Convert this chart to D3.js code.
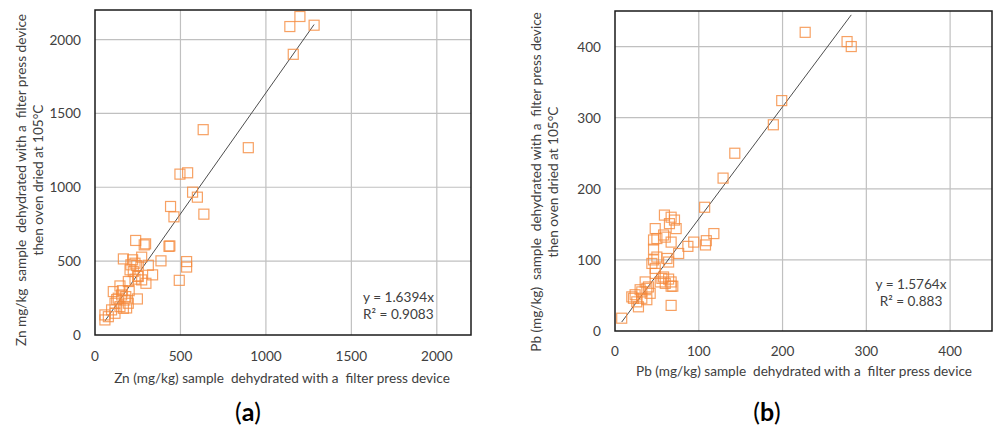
<!DOCTYPE html>
<html>
<head>
<meta charset="utf-8">
<script src="https://cdn.jsdelivr.net/npm/d3@7"></script>
<style>
  body { margin: 0; background: #fff; }
  svg text { font-family: Lato, "Open Sans", sans-serif; white-space: pre; }
</style>
</head>
<body>
<svg id="chart" width="995" height="427"></svg>
<script>
// Zn: filter press (x) vs. filter press + oven dried (y)
const znX = [1140, 1199, 1282, 1160, 633, 897, 497, 542, 571, 599, 637, 442, 462, 238, 296, 288, 433, 438,
  536, 536, 386, 493, 337, 166, 220, 273, 210, 234, 244, 312, 205, 224, 253, 234, 273, 298, 195, 146, 248,
  107, 156, 136, 175, 195, 117, 146, 166, 97, 117, 58, 58, 78, 185, 127, 200, 180, 160, 250];
const znY = [2088, 2156, 2097, 1900, 1390, 1268, 1089, 1098, 967, 933, 818, 870, 800, 640, 617, 610, 600, 603,
  497, 460, 502, 370, 407, 515, 509, 527, 475, 486, 470, 472, 441, 430, 396, 378, 373, 350, 362, 332, 244,
  294, 271, 249, 237, 215, 215, 192, 181, 170, 147, 136, 102, 124, 183, 240, 300, 260, 300, 400];

// Pb: filter press (x) vs. filter press + oven dried (y)
const pbX = [227, 277, 282, 199, 189, 143, 129, 107, 118, 108, 109, 94, 87, 76, 67, 67, 59, 67, 71, 65, 73,
  48, 58, 60, 50, 67, 46, 46, 50, 46, 44, 48, 62, 64, 48, 56, 64, 67, 60, 69, 36, 38, 32, 24, 22, 32, 38,
  28, 20, 30, 42, 54, 58, 40, 26, 8];
const pbY = [420, 407, 400, 324, 290, 250, 215, 174, 137, 121, 127, 125, 119, 109, 36, 63, 163, 160, 156, 151, 144,
  144, 135, 132, 130, 125, 128, 115, 104, 100, 95, 88, 102, 97, 81, 74, 73, 69, 67, 63, 69, 60, 55, 51, 46, 46, 44,
  34, 48, 58, 53, 69, 76, 62, 41, 18];

const znTicks = [0, 500, 1000, 1500, 2000];
const pbTicks = [0, 100, 200, 300, 400];

const svg = d3.select("#chart");
const ORANGE = "#f58a3c";
const TEXT = "#404040";
const FS = 13.6;

const drawPanel = (cfg) => {
    const x = d3.scaleLinear().domain([0, cfg.max]).range([cfg.left, cfg.right]);
    const y = d3.scaleLinear().domain([0, cfg.max]).range([cfg.bottom, cfg.top]);
    const g = svg.append("g");

    // gridlines
    g.selectAll(".vgrid").data(cfg.ticks.slice(1)).enter().append("line")
        .attr("x1", d => x(d)).attr("x2", d => x(d))
        .attr("y1", cfg.top).attr("y2", cfg.bottom)
        .attr("stroke", "#c0c0c0").attr("stroke-width", 1.2);
    g.selectAll(".hgrid").data(cfg.ticks.slice(1)).enter().append("line")
        .attr("y1", d => y(d)).attr("y2", d => y(d))
        .attr("x1", cfg.left).attr("x2", cfg.right)
        .attr("stroke", "#c0c0c0").attr("stroke-width", 1.2);

    // tick labels
    g.selectAll(".xt").data(cfg.ticks).enter().append("text")
        .attr("x", d => x(d)).attr("y", cfg.bottom + cfg.xTickOff)
        .attr("text-anchor", "middle").attr("font-size", FS).attr("fill", TEXT)
        .text(d => d);
    g.selectAll(".yt").data(cfg.ticks).enter().append("text")
        .attr("x", cfg.left - 14).attr("y", d => y(d) + 5)
        .attr("text-anchor", "end").attr("font-size", FS).attr("fill", TEXT)
        .text(d => d);

    // trendline y = k*x over data x range
    const [x0, x1] = d3.extent(cfg.xs);
    g.append("line")
        .attr("x1", x(x0)).attr("y1", y(cfg.k * x0))
        .attr("x2", x(x1)).attr("y2", y(cfg.k * x1))
        .attr("stroke", "#4d4d4d").attr("stroke-width", 1);

    // markers
    const S = 10;
    g.selectAll(".pt").data(cfg.xs.map((v, i) => [v, cfg.ys[i]])).enter().append("rect")
        .attr("x", d => x(d[0]) - S / 2).attr("y", d => y(d[1]) - S / 2)
        .attr("width", S).attr("height", S)
        .attr("fill", "none").attr("stroke", ORANGE).attr("stroke-width", 1.2)
        .attr("stroke-opacity", 0.8);

    // plot border
    g.append("rect")
        .attr("x", cfg.left).attr("y", cfg.top)
        .attr("width", cfg.right - cfg.left).attr("height", cfg.bottom - cfg.top)
        .attr("fill", "none").attr("stroke", "#1a1a1a").attr("stroke-width", 1.5);

    // equation
    const eq = g.append("text").attr("font-size", FS).attr("fill", TEXT).attr("text-anchor", cfg.eqAnchor);
    eq.append("tspan").attr("x", cfg.eqX).attr("y", cfg.eqY).text(cfg.eq1);
    eq.append("tspan").attr("x", cfg.eqX).attr("y", cfg.eqY + 17).text(cfg.eq2);

    // axis titles
    g.append("text")
        .attr("x", cfg.xTitleX).attr("y", cfg.xTitleY)
        .attr("text-anchor", "middle").attr("font-size", FS).attr("fill", TEXT)
        .text(cfg.xTitle);
    const yt = g.append("text")
        .attr("transform", `translate(${cfg.yTitleX},${cfg.yTitleY}) rotate(-90)`)
        .attr("text-anchor", "middle").attr("font-size", FS).attr("fill", TEXT);
    yt.append("tspan").attr("x", 0).attr("y", 0).text(cfg.yTitle1);
    yt.append("tspan").attr("x", 0).attr("y", 17).text(cfg.yTitle2);

    // panel label
    const lab = g.append("text")
        .attr("x", cfg.labelX).attr("y", 421)
        .attr("text-anchor", "middle").attr("font-size", 25)
        .attr("font-family", "'Liberation Serif', 'DejaVu Serif', serif").attr("fill", "#000");
    lab.append("tspan").text("(");
    lab.append("tspan").attr("font-weight", "bold").text(cfg.label);
    lab.append("tspan").text(")");
};

drawPanel({
    xs: znX, ys: znY, k: 1.6394, max: 2200, ticks: znTicks,
    left: 95, right: 471, top: 10, bottom: 335, xTickOff: 26,
    eq1: "y = 1.6394x", eq2: "R² = 0.9083", eqX: 363, eqY: 302, eqAnchor: "start",
    xTitle: "Zn (mg/kg) sample  dehydrated with a  filter press device", xTitleX: 282, xTitleY: 383,
    yTitle1: "Zn mg/kg  sample  dehydrated with a  filter press device",
    yTitle2: "then oven dried at 105°C", yTitleX: 26, yTitleY: 180,
    label: "a", labelX: 248
});

drawPanel({
    xs: pbX, ys: pbY, k: 1.5764, max: 450, ticks: pbTicks,
    left: 615, right: 992, top: 11, bottom: 331, xTickOff: 25,
    eq1: "y = 1.5764x", eq2: "R² = 0.883", eqX: 911, eqY: 289, eqAnchor: "middle",
    xTitle: "Pb (mg/kg) sample  dehydrated with a  filter press device", xTitleX: 804, xTitleY: 376,
    yTitle1: "Pb (mg/kg)  sample  dehydrated with a  filter press device",
    yTitle2: "then oven dried at 105°C", yTitleX: 541, yTitleY: 182,
    label: "b", labelX: 767
});
</script>
</body>
</html>
